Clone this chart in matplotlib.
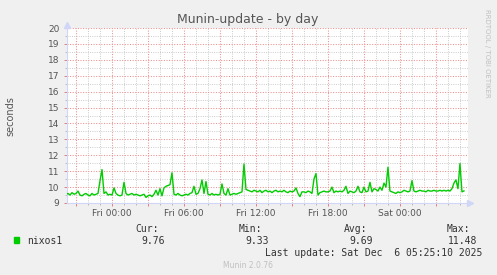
import numpy as np
import matplotlib
matplotlib.use("Agg")
import matplotlib.pyplot as plt
from matplotlib.ticker import MultipleLocator, FuncFormatter

# ---- data ----
title = "Munin-update - by day"
ylabel = "seconds"
series_name = "nixos1"
# 10-minute samples starting Thu 20:10 (hours relative to Fri 00:00)
start_hour = -23 / 6
step_hours = 1 / 6
values = [
    # Thu 20:10-20:50
    9.55, 9.60, 9.50, 9.65, 9.55,
    # Thu 21
    9.60, 9.75, 9.50, 9.45, 9.55, 9.60,
    # Thu 22
    9.50, 9.45, 9.60, 9.50, 9.55, 9.60,
    # Thu 23
    10.40, 11.10, 9.60, 9.70, 9.50, 9.55,
    # Fri 00
    9.50, 9.95, 9.60, 9.50, 9.45, 9.50,
    # Fri 01
    10.30, 9.60, 9.50, 9.55, 9.60, 9.50,
    # Fri 02
    9.55, 9.50, 9.45, 9.50, 9.55, 9.35,
    # Fri 03
    9.45, 9.50, 9.40, 9.55, 9.80, 9.50,
    # Fri 04
    9.90, 9.45, 9.95, 10.05, 10.10, 10.15,
    # Fri 05
    10.90, 9.55, 9.50, 9.60, 9.50, 9.45,
    # Fri 06
    9.50, 9.55, 9.50, 9.60, 9.65, 10.05,
    # Fri 07
    9.55, 9.60, 9.90, 10.45, 9.60, 10.35,
    # Fri 08
    9.55, 9.50, 9.60, 9.50, 9.55, 9.50,
    # Fri 09
    9.55, 10.20, 9.60, 9.50, 9.90, 9.50,
    # Fri 10
    9.55, 9.60, 9.55, 9.60, 9.65, 9.70,
    # Fri 11
    11.45, 9.85, 9.80, 9.75, 9.70, 9.80,
    # Fri 12
    9.75, 9.70, 9.80, 9.65, 9.75, 9.80,
    # Fri 13
    9.70, 9.75, 9.65, 9.75, 9.80, 9.70,
    # Fri 14
    9.75, 9.70, 9.80, 9.70, 9.65, 9.75,
    # Fri 15
    9.70, 9.75, 9.95, 9.60, 9.40, 9.70,
    # Fri 16
    9.70, 9.65, 9.75, 9.70, 9.60, 10.50,
    # Fri 17
    10.85, 9.50, 9.65, 9.70, 9.75, 9.70,
    # Fri 18
    9.70, 9.75, 10.00, 9.65, 9.75, 9.70,
    # Fri 19
    9.75, 9.70, 9.80, 10.05, 9.60, 9.75,
    # Fri 20
    9.70, 9.65, 9.75, 10.05, 9.70, 9.65,
    # Fri 21
    10.00, 9.70, 9.75, 10.30, 9.70, 9.90,
    # Fri 22
    9.85, 9.75, 10.00, 9.80, 10.25, 10.00,
    # Fri 23
    11.25, 9.75, 9.70, 9.65, 9.60, 9.70,
    # Sat 00
    9.65, 9.70, 9.80, 9.75, 9.70, 9.75,
    # Sat 01
    10.40, 9.75, 9.70, 9.75, 9.80, 9.75,
    # Sat 02
    9.75, 9.70, 9.80, 9.75, 9.75, 9.80,
    # Sat 03
    9.75, 9.75, 9.80, 9.75, 9.80, 9.75,
    # Sat 04
    9.80, 9.75, 9.90, 10.25, 10.45, 9.90,
    # Sat 05
    11.48, 9.70, 9.76,
]
xtick_hours = [0, 6, 12, 18, 24]
xtick_labels = ["Fri 00:00", "Fri 06:00", "Fri 12:00", "Fri 18:00", "Sat 00:00"]
stat_headers = ["Cur:", "Min:", "Avg:", "Max:"]
stat_values = ["9.76", "9.33", "9.69", "11.48"]
last_update = "Last update: Sat Dec  6 05:25:10 2025"
version = "Munin 2.0.76"
watermark = "RRDTOOL / TOBI OETIKER"

# ---- figure ----
W, H = 497, 275
fig = plt.figure(figsize=(W / 100, H / 100), dpi=100)
fig.patch.set_facecolor("#F0F0F0")

def fx(x):
    return x / W

def fy(y):
    return 1 - y / H

L, R, T, B = 67, 468, 28, 203
ax = fig.add_axes([fx(L), fy(B), (R - L) / W, (B - T) / H])
ax.set_facecolor("white")

hours = start_hour + step_hours * np.arange(len(values))
ax.plot(hours, values, color="#00CC00", lw=1.0, solid_joinstyle="round", zorder=3)

ax.set_xlim(-3.75, 29.67)
ax.set_ylim(9, 20)

ax.xaxis.set_major_locator(MultipleLocator(3))
ax.xaxis.set_minor_locator(MultipleLocator(1))
ax.yaxis.set_major_locator(MultipleLocator(1))
ax.yaxis.set_minor_locator(MultipleLocator(0.5))

lab = dict(zip(xtick_hours, xtick_labels))
ax.xaxis.set_major_formatter(FuncFormatter(lambda v, p: lab.get(int(round(v)), "") if abs(v - round(v)) < 1e-6 else ""))
ax.yaxis.set_major_formatter(FuncFormatter(lambda v, p: f"{int(round(v))}"))

ax.grid(which="major", color="#EE9090", linestyle=(0, (1, 1.5)), lw=0.75)
ax.grid(which="minor", color="#C4C4C4", linestyle=(0, (1, 1.5)), lw=0.65)
ax.set_axisbelow(True)

for s in ["top", "right"]:
    ax.spines[s].set_visible(False)
for s in ["left", "bottom"]:
    ax.spines[s].set_color("#CFD6F8")
    ax.spines[s].set_linewidth(0.8)

ax.tick_params(which="major", axis="both", length=2, width=0.7, color="#E08080",
               labelsize=6.5, labelcolor="#555555", pad=3.5)
ax.tick_params(which="minor", axis="both", length=1.5, width=0.6, color="#B0B0B0")
ax.tick_params(axis="x", which="major", pad=2.5)

# axis arrows
ax.plot([1.006], [0], marker=">", color="#CFD6F8", ms=4, transform=ax.transAxes, clip_on=False)
ax.plot([0], [1.02], marker="^", color="#CFD6F8", ms=4, transform=ax.transAxes, clip_on=False)

# title and labels
fig.text(fx(248), fy(23), title, ha="center", va="baseline", fontsize=9, color="#555555")
fig.text(fx(10), fy(116), ylabel, ha="center", va="center", rotation=90, fontsize=7, color="#555555")
fig.text(fx(487), fy(53), watermark, ha="center", va="center", rotation=-90, fontsize=5, color="#C0C0C0")

# legend
mono = "DejaVu Sans Mono"
fig.patches.append(plt.Rectangle((fx(14), fy(243)), 5 / W, 6 / H, transform=fig.transFigure,
                                 color="#00CC00", figure=fig))
fig.text(fx(27), fy(243.5), series_name, ha="left", va="baseline", fontsize=7, family=mono, color="#333333")
hdr_right = [159, 262, 367, 470]
val_right = [165, 269, 373, 477]
for h, v, xh, xv in zip(stat_headers, stat_values, hdr_right, val_right):
    fig.text(fx(xh), fy(231.5), h, ha="right", va="baseline", fontsize=7, family=mono, color="#333333")
    fig.text(fx(xv), fy(243.5), v, ha="right", va="baseline", fontsize=7, family=mono, color="#333333")
fig.text(fx(482), fy(255.5), last_update, ha="right", va="baseline", fontsize=7, family=mono, color="#333333")
fig.text(fx(248), fy(267.5), version, ha="center", va="baseline", fontsize=5.5, color="#C0C0C0")

fig.savefig("out.png", dpi=100, facecolor=fig.get_facecolor())
